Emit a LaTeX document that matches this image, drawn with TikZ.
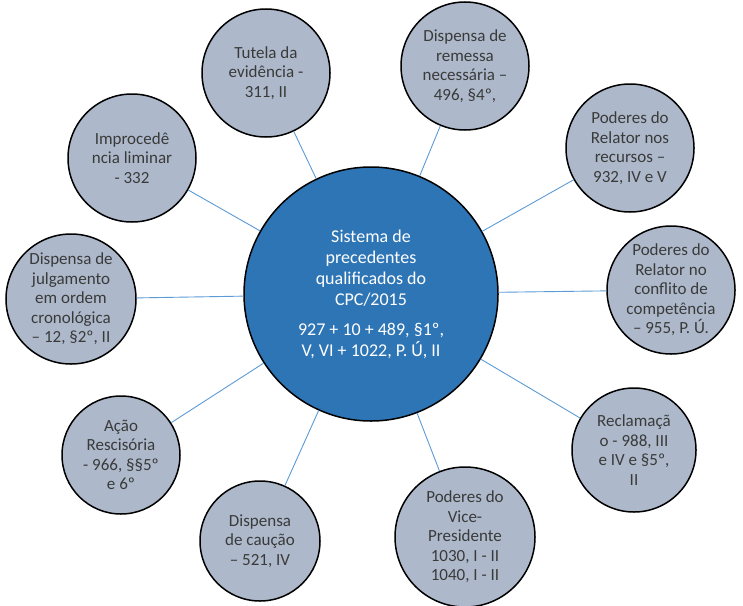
\documentclass[tikz,border=0pt]{standalone}
\usepackage{fontspec}
\setmainfont{Carlito}
\definecolor{hubblue}{HTML}{2E75B6}
\definecolor{leafgray}{HTML}{ADB9CA}
\definecolor{linkblue}{HTML}{5B9BD5}
\definecolor{leaftext}{HTML}{3A3A3A}

\begin{document}
\begin{tikzpicture}[x=1pt,y=-1pt,
    hub/.style={circle,draw=black,line width=1.5pt,fill=hubblue,text=white,
        minimum size=254pt,inner sep=0pt,align=center,font=\fontsize{18}{21}\selectfont},
    leaf/.style={circle,draw=black,line width=1.5pt,fill=leafgray,text=leaftext,
        minimum size=128pt,inner sep=0pt,align=center,font=\fontsize{17}{19.5}\selectfont},
    link/.style={draw=linkblue,line width=0.9pt}]
    \useasboundingbox (0,0) rectangle (743,605);
    % hub
    \node[hub] (sistema) at (371,294) {Sistema de\\precedentes\\qualificados do\\CPC/2015\\[9pt]927 + 10 + 489, §1º,\\V, VI + 1022, P. Ú, II};
    % leaves, clockwise from the top
    \node[leaf] (tutela) at (266,73) {Tutela da\\evidência -\\311, II};
    \node[leaf] (remessa) at (465,66) {Dispensa de\\remessa\\necessária –\\496, §4º,};
    \node[leaf] (recursos) at (630,148) {Poderes do\\Relator nos\\recursos –\\932, IV e V};
    \node[leaf] (conflito) at (671,290) {Poderes do\\Relator no\\conflito de\\competência\\– 955, P. Ú.};
    \node[leaf,minimum size=124pt] (reclamacao) at (634,450) {Reclamaçã\\o - 988, III\\e IV e §5º,\\II};
    \node[leaf,minimum size=140pt] (vice) at (465,537) {Poderes do\\Vice-\\Presidente\\1030, I - II\\1040, I - II};
    \node[leaf,minimum size=120pt] (caucao) at (260,541) {Dispensa\\de caução\\– 521, IV};
    \node[leaf,minimum size=118pt] (rescisoria) at (121,455) {Ação\\Rescisória\\- 966, §§5º\\e 6º};
    \node[leaf,minimum size=130pt] (julgamento) at (71,299) {Dispensa de\\julgamento\\em ordem\\cronológica\\– 12, §2º, II};
    \node[leaf] (improcedencia) at (132,158) {Improcedê\\ncia liminar\\- 332};
    % links
    \foreach \leafname in {tutela,remessa,recursos,conflito,reclamacao,vice,caucao,rescisoria,julgamento,improcedencia}
        \draw[link] (sistema) -- (\leafname);
\end{tikzpicture}
\end{document}
